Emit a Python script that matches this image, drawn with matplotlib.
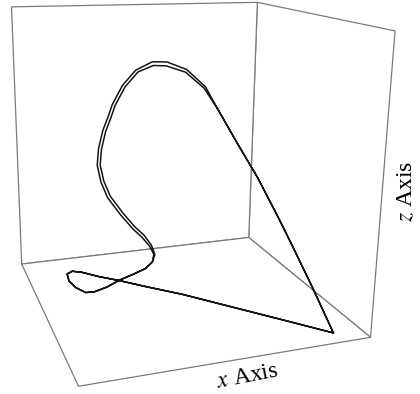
import matplotlib
matplotlib.use("Agg")
import matplotlib.pyplot as plt

plt.rcParams['font.family'] = ['Liberation Serif', 'DejaVu Serif']
plt.rcParams['mathtext.fontset'] = 'stix'

# low part of the orbit: from the sharp turn, across the floor loop, up to the S-bend
floor_x = [8.81, 5.40, 2.17, -1.05, -3.64, -5.13, -6.56, -7.66, -8.31, -8.66,
           -8.58, -8.16, -7.53, -6.93, -6.10, -5.13, -4.23, -3.39, -2.88]
floor_y = [-6.67, -5.12, -3.65, -2.19, -1.05, -0.39, 0.23, 0.73, 1.00, 1.07,
           0.89, 0.59, 0.25, 0.05, -0.16, -0.37, -0.59, -0.78, -0.83]
floor_z = [-1.16, -0.28, 0.54, 1.36, 1.90, 2.24, 2.51, 2.79, 2.85, 2.65,
           2.17, 1.70, 1.36, 1.42, 1.76, 2.31, 2.72, 3.13, 3.60]

# tall arc, first pass (outer strand)
outer_x = [-2.73, -2.96, -3.44, -3.98, -4.75, -5.50, -5.86, -6.01, -5.83,
           -5.43, -5.00, -4.65, -3.85, -2.87, -1.71, -0.73, 0.56, 1.71]
outer_y = [-0.72, -0.47, -0.09, 0.28, 0.88, 1.51, 1.98, 2.39, 2.67,
           2.92, 3.04, 3.17, 3.28, 3.24, 2.99, 2.62, 1.98, 1.18]
outer_z = [4.15, 4.72, 5.37, 5.92, 6.94, 8.11, 9.22, 10.41, 11.57,
           12.89, 13.85, 14.73, 16.11, 17.21, 17.82, 17.83, 17.31, 16.11]

# tall arc, second pass (inner strand)
inner_x = [-2.66, -2.84, -3.28, -3.82, -4.58, -5.31, -5.66, -5.81, -5.63,
           -5.24, -4.82, -4.47, -3.68, -2.72, -1.66, -0.79, 0.47, 1.61]
inner_y = [-0.75, -0.49, -0.11, 0.26, 0.85, 1.47, 1.92, 2.32, 2.59,
           2.83, 2.95, 3.08, 3.19, 3.15, 2.89, 2.56, 1.95, 1.19]
inner_z = [4.15, 4.80, 5.51, 6.05, 7.07, 8.22, 9.29, 10.41, 11.56,
           12.83, 13.78, 14.66, 16.01, 17.09, 17.56, 17.55, 17.12, 16.01]

# fall back down to the sharp turn
drop_x = [2.43, 3.46, 4.67, 5.84, 6.58, 7.68]
drop_y = [0.43, -0.63, -1.84, -3.14, -3.99, -5.28]
drop_z = [14.49, 12.25, 9.73, 6.87, 4.96, 2.04]

xs = floor_x + outer_x + drop_x + floor_x + inner_x + drop_x + floor_x[:1]
ys = floor_y + outer_y + drop_y + floor_y + inner_y + drop_y + floor_y[:1]
zs = floor_z + outer_z + drop_z + floor_z + inner_z + drop_z + floor_z[:1]

fig = plt.figure(figsize=(4.2, 3.94), dpi=100)
# oversized axes so no pane edge gets clipped at the axes border
ax = fig.add_axes([-0.3000, -0.1979, 1.4286, 1.5228], projection='3d')
ax.set_proj_type('persp', focal_length=0.264)
ax.view_init(elev=15.6, azim=-110.0, roll=-0.8)
ax.set_box_aspect((1, 1, 1.024), zoom=0.7995)

ax.plot(xs, ys, zs, color='#151515', lw=1.1, solid_joinstyle='round')

ax.set_xlim(-10.45, 9.75)
ax.set_ylim(-9.93, 10.27)
ax.set_zlim(-0.036, 21.324)

# open box: white panes with grey outlines (all four sides), no axis lines or ticks
for axis in (ax.xaxis, ax.yaxis, ax.zaxis):
    axis.set_pane_color('white')
    axis.pane.set_closed(True)
    axis.pane.set_edgecolor('#7a7a7a')
    axis.pane.set_linewidth(0.9)
    axis.line.set_color((0, 0, 0, 0))
ax.set_xticks([])
ax.set_yticks([])
ax.set_zticks([])
ax.grid(False)

fig.text(247 / 420, 1 - 377 / 394, '$x$ Axis', fontsize=17, rotation=11,
         ha='center', va='center')
fig.text(407 / 420, 1 - 192 / 394, '$z$ Axis', fontsize=17, rotation=90,
         ha='center', va='center')

fig.savefig('out.png', dpi=100)
